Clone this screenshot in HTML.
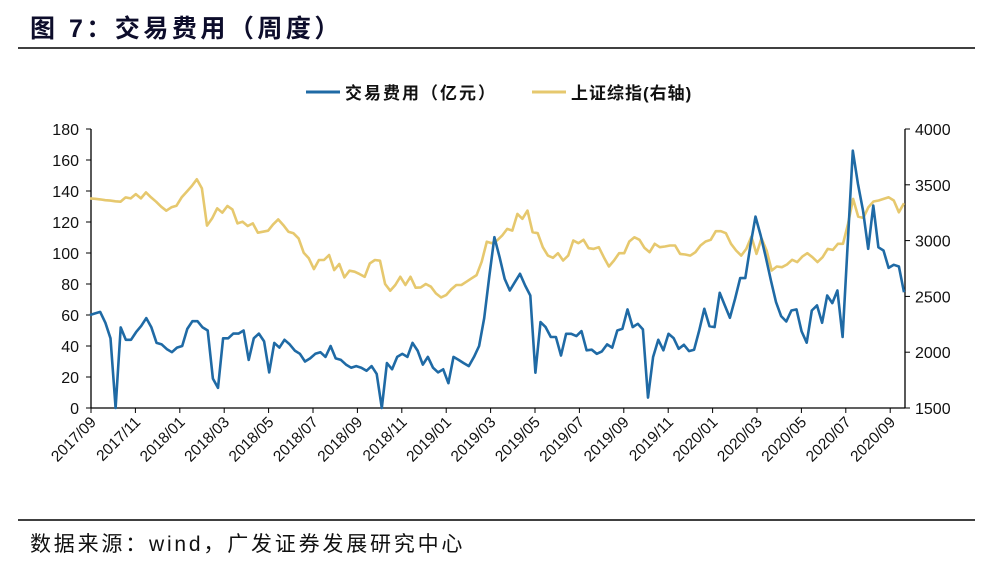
<!DOCTYPE html>
<html><head><meta charset="utf-8">
<style>
body{margin:0;background:#fff;width:989px;height:569px;overflow:hidden;font-family:"Liberation Sans","Noto Sans CJK SC",sans-serif;}
</style></head>
<body>
<svg id="chart" width="989" height="569" xmlns="http://www.w3.org/2000/svg">
<text x="30" y="37" font-size="25" font-weight="bold" letter-spacing="3.5" fill="#0d0d2b" font-family="Liberation Sans, Noto Sans CJK SC, sans-serif">图 7：交易费用（周度）</text>
<line x1="18" y1="48" x2="975" y2="48" stroke="#000" stroke-width="1.5"/>
<line x1="18" y1="520" x2="975" y2="520" stroke="#000" stroke-width="1.5"/>
<text x="30" y="551" font-size="21" letter-spacing="2.8" fill="#111" font-family="Liberation Sans, Noto Sans CJK SC, sans-serif">数据来源：wind，广发证券发展研究中心</text>
<g>
<line x1="306" y1="92" x2="340" y2="92" stroke="#1f6aa5" stroke-width="3"/>
<text x="345" y="99" font-size="17" font-weight="bold" letter-spacing="2" fill="#111" font-family="Liberation Sans, Noto Sans CJK SC, sans-serif">交易费用（亿元）</text>
<line x1="532" y1="92" x2="566" y2="92" stroke="#e6c86e" stroke-width="3"/>
<text x="571" y="99" font-size="17" font-weight="bold" letter-spacing="1" fill="#111" font-family="Liberation Sans, Noto Sans CJK SC, sans-serif">上证综指(右轴)</text>
</g>
<g id="axes"></g>
<g id="series"></g>
</svg>
<script>
const leftTicks=[0,20,40,60,80,100,120,140,160,180];
const rightTicks=[1500,2000,2500,3000,3500,4000];
const monthLabels=["2017/09","2017/11","2018/01","2018/03","2018/05","2018/07","2018/09","2018/11","2019/01","2019/03","2019/05","2019/07","2019/09","2019/11","2020/01","2020/03","2020/05","2020/07","2020/09"];
const feeValues=[60,61,62,55,45,0,52,44,44,49,53,58,52,42,41,38,36,39,40,51,56,56,52,50,19,13,45,45,48,48,50,31,45,48,43,23,42,39,44,41,37,35,30,32,35,36,33,40,32,31,28,26,27,26,24,27,22,0,29,25,33,35,33,42,37,28,33,26,23,25,16,33,31,29,27,33,40,58,85,
110.2,97.3,83.3,75.8,81.2,86.6,79.0,72.6,22.8,55.4,52.2,45.8,45.8,33.9,47.9,47.9,46.4,49.6,37.2,37.6,35.0,36.5,41.0,38.9,50.0,51.1,63.6,52.2,54.3,50.7,6.7,32.9,44.0,37.2,47.9,45.1,38.2,40.8,36.7,37.6,50.0,64.0,52.8,52.2,74.3,66.2,58.2,70.5,83.8,83.8,104.8,123.5,111.3,97.3,82.3,68.3,59.3,55.8,62.9,63.6,49.4,42.1,62.9,66.2,55.0,72.6,67.7,75.8,45.8,105.9,166.0,144.8,127.4,102.7,130.6,103.7,101.6,90.4,92.4,91.3,74.7];
const indexValues=[3378,3375,3369,3362,3358,3352,3349,3387,3378,3417,3378,3432,3387,3349,3304,3268,3298,3313,3387,3438,3489,3549,3468,3134,3199,3289,3250,3310,3280,3154,3169,3131,3154,3071,3080,3089,3145,3190,3139,3080,3065,3020,2892,2841,2745,2826,2826,2871,2736,2790,2670,2730,2721,2700,2676,2796,2826,2820,2611,2551,2602,2676,2602,2676,2578,2581,2611,2587,2527,2491,2512,2563,2602,2602,2632,2662,2691,2811,2990,
2977,3001,3045,3105,3090,3239,3195,3269,3075,3066,2941,2866,2846,2887,2822,2866,3001,2977,3007,2932,2926,2941,2851,2768,2822,2887,2887,2992,3030,3007,2935,2896,2971,2941,2947,2956,2956,2881,2875,2866,2896,2956,2992,3007,3084,3084,3066,2971,2911,2866,2926,3036,2881,3021,2911,2732,2768,2762,2786,2828,2807,2857,2887,2851,2807,2851,2926,2917,2971,2971,3150,3374,3215,3203,3299,3350,3359,3374,3388,3359,3254,3335];
const X0=91,X1=905,YT=129,YB=408,PX0=90,PX1=904;
const yL=v=>YB-(v/180)*(YB-YT);
const yR=v=>YB-((v-1500)/2500)*(YB-YT);
const xM=m=>X0+m*22.2;
const xI=(i,n)=>PX0+i*(PX1-PX0)/(n-1);
const NS="http://www.w3.org/2000/svg";
const ax=document.getElementById('axes'),sr=document.getElementById('series');
function mk(t,a,p){const e=document.createElementNS(NS,t);for(const k in a)e.setAttribute(k,a[k]);p.appendChild(e);return e;}
let e=mk('line',{x1:X0,y1:YT,x2:X0,y2:YB,stroke:'#000','stroke-width':1.3},ax);


e=mk('line',{x1:X1,y1:YT,x2:X1,y2:YB,stroke:'#000','stroke-width':1.3},ax);


e=mk('line',{x1:X0,y1:YB,x2:X1,y2:YB,stroke:'#000','stroke-width':1.3},ax);


leftTicks.forEach(v=>{const y=yL(v);
 let t=mk('line',{x1:X0-5,y1:y,x2:X0,y2:y,stroke:'#000'},ax);
 
 
 let l=mk('text',{x:X0-12,y:y+6,'text-anchor':'end','font-size':16,fill:'#111'},ax);l.textContent=v;
 
 });
rightTicks.forEach(v=>{const y=yR(v);
 let t=mk('line',{x1:X1,y1:y,x2:X1+5,y2:y,stroke:'#000'},ax);
 
 
 let l=mk('text',{x:X1+10,y:y+6,'font-size':16,fill:'#111'},ax);l.textContent=v;
 
 });
monthLabels.forEach((s,i)=>{const x=xM(i*2);
 let t=mk('line',{x1:x,y1:YB,x2:x,y2:YB+5,stroke:'#000'},ax);
 
 
 let l=mk('text',{x:x+6,y:YB+15,'text-anchor':'end','font-size':15.5,fill:'#111',transform:`rotate(-45 ${x+6} ${YB+15})`},ax);l.textContent=s;
 
 });
function line(vals,yf,col,name){const d=vals.map((v,i)=>(i?'L':'M')+xI(i,vals.length).toFixed(1)+','+yf(v).toFixed(1)).join('');
 const p=mk('path',{d:d,fill:'none',stroke:col,'stroke-width':2.6,'stroke-linejoin':'round'},sr);
 
 }
line(indexValues,yR,'#e6c86e','index-line');
line(feeValues,yL,'#1f6aa5','fee-line');
</script>
</body></html>
